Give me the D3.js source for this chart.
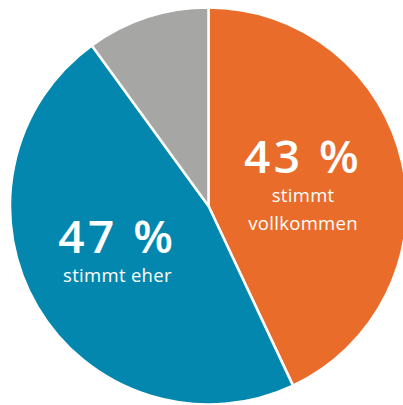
<!DOCTYPE html>
<html><head><meta charset="utf-8">
<script src="https://cdn.jsdelivr.net/npm/d3@7"></script>
<style>body{margin:0;background:#fff;overflow:hidden}svg{display:block}</style>
</head><body><svg id="c" width="403" height="405"></svg>
<script>
const categories = ["stimmt vollkommen", "stimmt eher", "keine Angabe"];
const values = [43, 47, 10];
const valueLabels = ["43 %", "47 %", ""];
const subLabels = [["stimmt", "vollkommen"], ["stimmt eher"], []];
const colors = ["#ea6c2b", "#0487ae", "#a6a6a5"];

const svg = d3.select("#c");
const cx = 208.5, cy = 206, R = 198.5;
const g = svg.append("g").attr("transform", `translate(${cx},${cy})`);
const pie = d3.pie().sort(null).value(d => d)(values);
const arc = d3.arc().innerRadius(0).outerRadius(R);
g.selectAll("path").data(pie).join("path")
  .attr("d", arc).attr("fill", (d, i) => colors[i])
  .attr("stroke", "#fff").attr("stroke-width", 2.5).attr("stroke-linejoin", "round");

const labelArc = d3.arc().innerRadius(100).outerRadius(100);
const offsets = [[-3, -11], [-5, -4]];
pie.forEach((d, i) => {
  if (!valueLabels[i]) return;
  const [x, y] = labelArc.centroid(d);
  const lg = g.append("g").attr("transform", `translate(${x + offsets[i][0]},${y + offsets[i][1]})`);
  lg.append("text").attr("x", 0).attr("y", 0)
    .attr("text-anchor", "middle").attr("fill", "#fff")
    .attr("font-family", "Open Sans").attr("font-weight", 600)
    .attr("font-size", 46).attr("letter-spacing", 3.5)
    .text(valueLabels[i]);
  subLabels[i].forEach((s, j) => {
    lg.append("text").attr("x", 0).attr("y", 29 + j * 28)
      .attr("text-anchor", "middle").attr("fill", "#fff")
      .attr("font-family", "Open Sans").attr("font-weight", 400)
      .attr("font-size", 18.5).attr("letter-spacing", 0.3)
      .text(s);
  });
});
</script></body></html>
